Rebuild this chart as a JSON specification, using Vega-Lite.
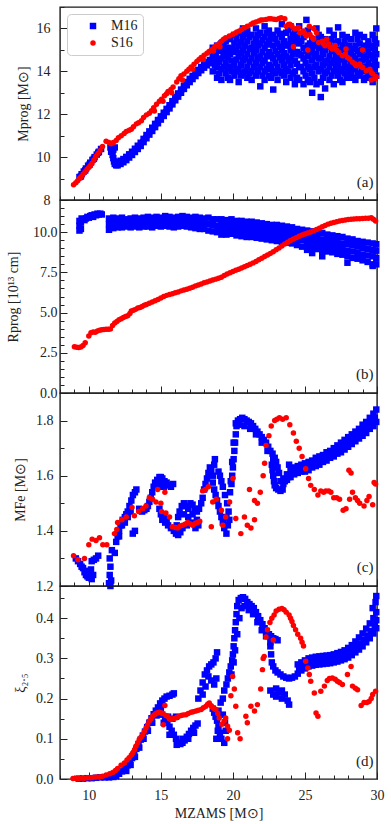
{
"$schema":"https://vega.github.io/schema/vega-lite/v6.json",
"autosize":{"type":"pad"},
"padding":{"left":5,"top":5,"right":0,"bottom":0},
"spacing":0,
"bounds":"flush",
"config":{"font":"Liberation Serif","view":{"stroke":"#1a1a1a","strokeWidth":1.4},
"axis":{"domain":false,"grid":false,"labelFontSize":14,"labelColor":"#222","titleFontSize":14,"titleColor":"#222","titleFontWeight":"normal","tickColor":"#222","tickWidth":1,"labelOverlap":false,"labelBound":false,"labelFlush":false},
"point":{"filled":true,"opacity":1,"strokeWidth":0}},
"datasets":{
"a":[
{"s":"M16","x":9.35,"y":9.07},{"s":"M16","x":9.45,"y":9.1},{"s":"M16","x":9.5,"y":9.2},{"s":"M16","x":9.65,"y":9.33},{"s":"M16","x":9.75,"y":9.38},{"s":"M16","x":9.8,"y":9.47},{"s":"M16","x":9.95,"y":9.6},{"s":"M16","x":10.05,"y":9.65},{"s":"M16","x":10.1,"y":9.74},{"s":"M16","x":10.25,"y":9.87},{"s":"M16","x":10.35,"y":9.92},{"s":"M16","x":10.4,"y":10.0},{"s":"M16","x":10.55,"y":10.12},{"s":"M16","x":10.65,"y":10.2},{"s":"M16","x":10.7,"y":10.25},{"s":"M16","x":10.85,"y":10.38},
{"s":"M16","x":11.5,"y":10.45},{"s":"M16","x":11.6,"y":10.4},{"s":"M16","x":11.55,"y":10.25},{"s":"M16","x":11.65,"y":10.1},{"s":"M16","x":11.7,"y":9.95},{"s":"M16","x":11.75,"y":9.8},{"s":"M16","x":11.8,"y":9.68},{"s":"M16","x":11.9,"y":9.62},{"s":"M16","x":11.8,"y":10.45},{"s":"M16","x":11.7,"y":10.35},
{"s":"M16","x":12.0,"y":9.62},{"s":"M16","x":12.0,"y":9.77},{"s":"M16","x":12.2,"y":9.68},{"s":"M16","x":12.2,"y":9.83},{"s":"M16","x":12.4,"y":9.76},{"s":"M16","x":12.4,"y":9.91},{"s":"M16","x":12.6,"y":9.86},{"s":"M16","x":12.6,"y":10.01},{"s":"M16","x":12.8,"y":9.98},{"s":"M16","x":12.8,"y":10.13},{"s":"M16","x":13.0,"y":10.1},{"s":"M16","x":13.0,"y":10.25},{"s":"M16","x":13.2,"y":10.24},{"s":"M16","x":13.2,"y":10.39},{"s":"M16","x":13.4,"y":10.38},{"s":"M16","x":13.4,"y":10.53},{"s":"M16","x":13.6,"y":10.52},{"s":"M16","x":13.6,"y":10.67},{"s":"M16","x":13.8,"y":10.7},{"s":"M16","x":13.8,"y":10.85},{"s":"M16","x":14.0,"y":10.88},{"s":"M16","x":14.0,"y":11.03},{"s":"M16","x":14.2,"y":11.05},{"s":"M16","x":14.2,"y":11.2},{"s":"M16","x":14.4,"y":11.22},{"s":"M16","x":14.4,"y":11.37},{"s":"M16","x":14.6,"y":11.4},{"s":"M16","x":14.6,"y":11.55},{"s":"M16","x":14.8,"y":11.58},{"s":"M16","x":14.8,"y":11.73},{"s":"M16","x":15.0,"y":11.75},{"s":"M16","x":15.0,"y":11.9},{"s":"M16","x":15.2,"y":11.92},{"s":"M16","x":15.2,"y":12.07},{"s":"M16","x":15.4,"y":12.1},{"s":"M16","x":15.4,"y":12.25},{"s":"M16","x":15.6,"y":12.27},{"s":"M16","x":15.6,"y":12.42},{"s":"M16","x":15.8,"y":12.46},{"s":"M16","x":15.8,"y":12.61},{"s":"M16","x":16.0,"y":12.65},{"s":"M16","x":16.0,"y":12.8},{"s":"M16","x":16.2,"y":12.82},{"s":"M16","x":16.2,"y":12.97},{"s":"M16","x":16.4,"y":13.0},{"s":"M16","x":16.4,"y":13.15},{"s":"M16","x":16.6,"y":13.18},{"s":"M16","x":16.6,"y":13.33},{"s":"M16","x":16.8,"y":13.35},{"s":"M16","x":16.8,"y":13.5},{"s":"M16","x":17.0,"y":13.5},{"s":"M16","x":17.0,"y":13.65},{"s":"M16","x":17.2,"y":13.64},{"s":"M16","x":17.2,"y":13.79},{"s":"M16","x":17.4,"y":13.78},{"s":"M16","x":17.4,"y":13.93},{"s":"M16","x":17.6,"y":13.92},{"s":"M16","x":17.6,"y":14.07},{"s":"M16","x":17.8,"y":14.05},{"s":"M16","x":17.8,"y":14.2},{"s":"M16","x":18.0,"y":14.17},{"s":"M16","x":18.0,"y":14.32},{"s":"M16","x":18.2,"y":14.28},{"s":"M16","x":18.2,"y":14.43},{"s":"M16","x":18.4,"y":14.38},{"s":"M16","x":18.4,"y":14.53},{"s":"M16","x":18.6,"y":14.5},{"s":"M16","x":18.6,"y":14.65},{"s":"M16","x":18.8,"y":14.65},{"s":"M16","x":18.8,"y":14.8},
{"s":"M16","x":18.6,"y":14.0},{"s":"M16","x":18.6,"y":14.9},{"s":"M16","x":18.6,"y":15.1},
{"s":"M16","x":18.9,"y":13.7},{"s":"M16","x":18.9,"y":14.2},{"s":"M16","x":18.9,"y":15.2},
{"s":"M16","x":19.2,"y":13.6},{"s":"M16","x":19.2,"y":14.1},{"s":"M16","x":19.2,"y":14.6},{"s":"M16","x":19.2,"y":15.0},{"s":"M16","x":19.2,"y":15.3},
{"s":"M16","x":19.5,"y":13.9},{"s":"M16","x":19.5,"y":14.4},{"s":"M16","x":19.5,"y":14.9},{"s":"M16","x":19.5,"y":15.4},
{"s":"M16","x":19.8,"y":13.6},{"s":"M16","x":19.8,"y":14.2},{"s":"M16","x":19.8,"y":14.8},{"s":"M16","x":19.8,"y":15.5},
{"s":"M16","x":20.1,"y":13.8},{"s":"M16","x":20.1,"y":14.3},{"s":"M16","x":20.1,"y":14.9},{"s":"M16","x":20.1,"y":15.3},{"s":"M16","x":20.1,"y":15.7},
{"s":"M16","x":20.4,"y":13.5},{"s":"M16","x":20.4,"y":14.1},{"s":"M16","x":20.4,"y":14.7},{"s":"M16","x":20.4,"y":15.2},{"s":"M16","x":20.4,"y":15.8},
{"s":"M16","x":20.7,"y":13.9},{"s":"M16","x":20.7,"y":14.5},{"s":"M16","x":20.7,"y":15.0},{"s":"M16","x":20.7,"y":15.6},{"s":"M16","x":20.7,"y":16.0},
{"s":"M16","x":21.0,"y":13.7},{"s":"M16","x":21.0,"y":14.2},{"s":"M16","x":21.0,"y":14.8},{"s":"M16","x":21.0,"y":15.4},{"s":"M16","x":21.0,"y":15.9},
{"s":"M16","x":21.3,"y":13.6},{"s":"M16","x":21.3,"y":14.0},{"s":"M16","x":21.3,"y":14.6},{"s":"M16","x":21.3,"y":15.1},{"s":"M16","x":21.3,"y":15.7},
{"s":"M16","x":21.6,"y":13.8},{"s":"M16","x":21.6,"y":14.4},{"s":"M16","x":21.6,"y":15.0},{"s":"M16","x":21.6,"y":15.5},{"s":"M16","x":21.6,"y":16.0},
{"s":"M16","x":21.9,"y":13.3},{"s":"M16","x":21.9,"y":14.2},{"s":"M16","x":21.9,"y":14.7},{"s":"M16","x":21.9,"y":15.3},{"s":"M16","x":21.9,"y":15.8},
{"s":"M16","x":22.2,"y":13.6},{"s":"M16","x":22.2,"y":14.0},{"s":"M16","x":22.2,"y":14.5},{"s":"M16","x":22.2,"y":15.1},{"s":"M16","x":22.2,"y":15.6},{"s":"M16","x":22.2,"y":16.1},
{"s":"M16","x":22.5,"y":13.8},{"s":"M16","x":22.5,"y":14.3},{"s":"M16","x":22.5,"y":14.9},{"s":"M16","x":22.5,"y":15.4},{"s":"M16","x":22.5,"y":15.9},
{"s":"M16","x":22.8,"y":13.15},{"s":"M16","x":22.8,"y":14.0},{"s":"M16","x":22.8,"y":14.6},{"s":"M16","x":22.8,"y":15.2},{"s":"M16","x":22.8,"y":15.7},
{"s":"M16","x":23.1,"y":13.6},{"s":"M16","x":23.1,"y":14.2},{"s":"M16","x":23.1,"y":14.8},{"s":"M16","x":23.1,"y":15.3},{"s":"M16","x":23.1,"y":15.9},
{"s":"M16","x":23.4,"y":13.9},{"s":"M16","x":23.4,"y":14.5},{"s":"M16","x":23.4,"y":15.0},{"s":"M16","x":23.4,"y":15.6},{"s":"M16","x":23.4,"y":16.2},
{"s":"M16","x":23.7,"y":13.5},{"s":"M16","x":23.7,"y":14.1},{"s":"M16","x":23.7,"y":14.7},{"s":"M16","x":23.7,"y":15.2},{"s":"M16","x":23.7,"y":15.8},
{"s":"M16","x":24.0,"y":13.7},{"s":"M16","x":24.0,"y":14.3},{"s":"M16","x":24.0,"y":14.6},{"s":"M16","x":24.0,"y":15.0},{"s":"M16","x":24.0,"y":15.5},{"s":"M16","x":24.0,"y":16.1},
{"s":"M16","x":24.3,"y":13.4},{"s":"M16","x":24.3,"y":14.0},{"s":"M16","x":24.3,"y":14.5},{"s":"M16","x":24.3,"y":14.9},{"s":"M16","x":24.3,"y":15.4},{"s":"M16","x":24.3,"y":15.9},
{"s":"M16","x":24.6,"y":13.6},{"s":"M16","x":24.6,"y":14.2},{"s":"M16","x":24.6,"y":14.8},{"s":"M16","x":24.6,"y":15.3},{"s":"M16","x":24.6,"y":16.1},
{"s":"M16","x":24.9,"y":13.4},{"s":"M16","x":24.9,"y":14.0},{"s":"M16","x":24.9,"y":14.6},{"s":"M16","x":24.9,"y":15.1},{"s":"M16","x":24.9,"y":15.6},{"s":"M16","x":25.1,"y":16.4},
{"s":"M16","x":25.2,"y":13.6},{"s":"M16","x":25.2,"y":14.2},{"s":"M16","x":25.2,"y":14.7},{"s":"M16","x":25.2,"y":15.2},{"s":"M16","x":25.2,"y":15.9},
{"s":"M16","x":25.5,"y":13.0},{"s":"M16","x":25.5,"y":13.9},{"s":"M16","x":25.5,"y":14.5},{"s":"M16","x":25.5,"y":15.0},{"s":"M16","x":25.5,"y":15.5},
{"s":"M16","x":25.8,"y":13.4},{"s":"M16","x":25.8,"y":14.3},{"s":"M16","x":25.8,"y":14.8},{"s":"M16","x":25.8,"y":15.4},{"s":"M16","x":25.8,"y":16.0},
{"s":"M16","x":26.1,"y":12.8},{"s":"M16","x":26.1,"y":13.5},{"s":"M16","x":26.1,"y":14.1},{"s":"M16","x":26.1,"y":14.6},{"s":"M16","x":26.1,"y":15.1},{"s":"M16","x":26.1,"y":15.6},
{"s":"M16","x":26.4,"y":13.2},{"s":"M16","x":26.4,"y":13.9},{"s":"M16","x":26.4,"y":14.4},{"s":"M16","x":26.4,"y":15.0},{"s":"M16","x":26.4,"y":15.5},
{"s":"M16","x":26.7,"y":13.6},{"s":"M16","x":26.7,"y":14.2},{"s":"M16","x":26.7,"y":14.7},{"s":"M16","x":26.7,"y":15.3},{"s":"M16","x":26.7,"y":15.9},
{"s":"M16","x":27.0,"y":13.4},{"s":"M16","x":27.0,"y":14.0},{"s":"M16","x":27.0,"y":14.5},{"s":"M16","x":27.0,"y":15.0},{"s":"M16","x":27.0,"y":15.7},
{"s":"M16","x":27.3,"y":13.8},{"s":"M16","x":27.3,"y":14.3},{"s":"M16","x":27.3,"y":14.8},{"s":"M16","x":27.3,"y":15.4},{"s":"M16","x":27.3,"y":16.05},
{"s":"M16","x":27.6,"y":13.5},{"s":"M16","x":27.6,"y":14.1},{"s":"M16","x":27.6,"y":14.6},{"s":"M16","x":27.6,"y":15.2},{"s":"M16","x":27.6,"y":15.7},
{"s":"M16","x":27.9,"y":13.7},{"s":"M16","x":27.9,"y":14.2},{"s":"M16","x":27.9,"y":14.7},{"s":"M16","x":27.9,"y":15.1},{"s":"M16","x":27.9,"y":15.6},
{"s":"M16","x":28.2,"y":13.9},{"s":"M16","x":28.2,"y":14.4},{"s":"M16","x":28.2,"y":14.9},{"s":"M16","x":28.2,"y":15.5},
{"s":"M16","x":28.5,"y":13.6},{"s":"M16","x":28.5,"y":14.1},{"s":"M16","x":28.5,"y":14.6},{"s":"M16","x":28.5,"y":15.2},{"s":"M16","x":28.5,"y":15.8},
{"s":"M16","x":28.8,"y":13.8},{"s":"M16","x":28.8,"y":14.3},{"s":"M16","x":28.8,"y":14.8},{"s":"M16","x":28.8,"y":15.3},{"s":"M16","x":28.8,"y":15.7},
{"s":"M16","x":29.1,"y":13.6},{"s":"M16","x":29.1,"y":14.2},{"s":"M16","x":29.1,"y":14.7},{"s":"M16","x":29.1,"y":15.1},{"s":"M16","x":29.1,"y":15.6},
{"s":"M16","x":29.4,"y":13.9},{"s":"M16","x":29.4,"y":14.4},{"s":"M16","x":29.4,"y":14.9},{"s":"M16","x":29.4,"y":15.4},
{"s":"M16","x":29.7,"y":13.5},{"s":"M16","x":29.7,"y":14.0},{"s":"M16","x":29.7,"y":14.6},{"s":"M16","x":29.7,"y":15.1},{"s":"M16","x":29.7,"y":15.7},
{"s":"M16","x":29.95,"y":13.8},{"s":"M16","x":29.95,"y":14.3},{"s":"M16","x":29.95,"y":14.8},{"s":"M16","x":29.95,"y":15.3},{"s":"M16","x":29.95,"y":16.0},
{"s":"M16","x":18.75,"y":14.3},{"s":"M16","x":18.75,"y":14.8},
{"s":"M16","x":19.05,"y":13.9},{"s":"M16","x":19.05,"y":14.45},{"s":"M16","x":19.05,"y":14.95},
{"s":"M16","x":19.35,"y":14.2},{"s":"M16","x":19.35,"y":14.7},{"s":"M16","x":19.35,"y":15.2},
{"s":"M16","x":19.65,"y":13.7},{"s":"M16","x":19.65,"y":14.15},{"s":"M16","x":19.65,"y":14.65},{"s":"M16","x":19.65,"y":15.1},
{"s":"M16","x":19.95,"y":14.0},{"s":"M16","x":19.95,"y":14.5},{"s":"M16","x":19.95,"y":15.05},
{"s":"M16","x":20.25,"y":14.0},{"s":"M16","x":20.25,"y":14.55},{"s":"M16","x":20.25,"y":15.0},{"s":"M16","x":20.25,"y":15.5},
{"s":"M16","x":20.55,"y":13.8},{"s":"M16","x":20.55,"y":14.3},{"s":"M16","x":20.55,"y":14.85},{"s":"M16","x":20.55,"y":15.35},
{"s":"M16","x":20.85,"y":14.0},{"s":"M16","x":20.85,"y":14.6},{"s":"M16","x":20.85,"y":15.2},{"s":"M16","x":20.85,"y":15.75},
{"s":"M16","x":21.15,"y":13.9},{"s":"M16","x":21.15,"y":14.45},{"s":"M16","x":21.15,"y":15.05},{"s":"M16","x":21.15,"y":15.6},
{"s":"M16","x":21.45,"y":14.2},{"s":"M16","x":21.45,"y":14.85},{"s":"M16","x":21.45,"y":15.3},
{"s":"M16","x":21.75,"y":14.0},{"s":"M16","x":21.75,"y":14.6},{"s":"M16","x":21.75,"y":15.2},{"s":"M16","x":21.75,"y":15.7},
{"s":"M16","x":22.05,"y":13.8},{"s":"M16","x":22.05,"y":14.4},{"s":"M16","x":22.05,"y":14.9},{"s":"M16","x":22.05,"y":15.45},
{"s":"M16","x":22.35,"y":14.1},{"s":"M16","x":22.35,"y":14.7},{"s":"M16","x":22.35,"y":15.25},{"s":"M16","x":22.35,"y":15.8},
{"s":"M16","x":22.65,"y":13.7},{"s":"M16","x":22.65,"y":14.2},{"s":"M16","x":22.65,"y":14.75},{"s":"M16","x":22.65,"y":15.55},
{"s":"M16","x":22.95,"y":13.9},{"s":"M16","x":22.95,"y":14.4},{"s":"M16","x":22.95,"y":14.95},{"s":"M16","x":22.95,"y":15.5},
{"s":"M16","x":23.25,"y":14.0},{"s":"M16","x":23.25,"y":14.65},{"s":"M16","x":23.25,"y":15.15},{"s":"M16","x":23.25,"y":15.75},
{"s":"M16","x":23.55,"y":13.8},{"s":"M16","x":23.55,"y":14.3},{"s":"M16","x":23.55,"y":14.85},{"s":"M16","x":23.55,"y":15.4},
{"s":"M16","x":23.85,"y":14.0},{"s":"M16","x":23.85,"y":14.5},{"s":"M16","x":23.85,"y":15.25},{"s":"M16","x":23.85,"y":15.95},
{"s":"M16","x":24.15,"y":13.9},{"s":"M16","x":24.15,"y":14.8},{"s":"M16","x":24.15,"y":15.2},{"s":"M16","x":24.15,"y":15.7},
{"s":"M16","x":24.45,"y":13.7},{"s":"M16","x":24.45,"y":14.35},{"s":"M16","x":24.45,"y":14.9},{"s":"M16","x":24.45,"y":15.6},
{"s":"M16","x":24.75,"y":14.2},{"s":"M16","x":24.75,"y":14.75},{"s":"M16","x":24.75,"y":15.4},
{"s":"M16","x":25.05,"y":13.8},{"s":"M16","x":25.05,"y":14.4},{"s":"M16","x":25.05,"y":14.95},{"s":"M16","x":25.05,"y":15.75},
{"s":"M16","x":25.35,"y":13.5},{"s":"M16","x":25.35,"y":14.1},{"s":"M16","x":25.35,"y":14.9},{"s":"M16","x":25.35,"y":15.3},
{"s":"M16","x":25.65,"y":13.7},{"s":"M16","x":25.65,"y":14.2},{"s":"M16","x":25.65,"y":14.7},{"s":"M16","x":25.65,"y":15.2},
{"s":"M16","x":25.95,"y":14.0},{"s":"M16","x":25.95,"y":14.6},{"s":"M16","x":25.95,"y":15.1},{"s":"M16","x":25.95,"y":15.7},
{"s":"M16","x":26.25,"y":13.7},{"s":"M16","x":26.25,"y":14.3},{"s":"M16","x":26.25,"y":14.8},{"s":"M16","x":26.25,"y":15.3},
{"s":"M16","x":26.55,"y":14.0},{"s":"M16","x":26.55,"y":14.5},{"s":"M16","x":26.55,"y":15.15},
{"s":"M16","x":26.85,"y":13.8},{"s":"M16","x":26.85,"y":14.4},{"s":"M16","x":26.85,"y":14.95},{"s":"M16","x":26.85,"y":15.5},
{"s":"M16","x":27.15,"y":14.2},{"s":"M16","x":27.15,"y":14.75},{"s":"M16","x":27.15,"y":15.3},
{"s":"M16","x":27.45,"y":13.6},{"s":"M16","x":27.45,"y":14.0},{"s":"M16","x":27.45,"y":14.55},{"s":"M16","x":27.45,"y":15.0},
{"s":"M16","x":27.75,"y":13.9},{"s":"M16","x":27.75,"y":14.4},{"s":"M16","x":27.75,"y":14.95},{"s":"M16","x":27.75,"y":15.4},
{"s":"M16","x":28.05,"y":14.0},{"s":"M16","x":28.05,"y":14.6},{"s":"M16","x":28.05,"y":15.2},
{"s":"M16","x":28.35,"y":13.7},{"s":"M16","x":28.35,"y":14.15},{"s":"M16","x":28.35,"y":14.7},{"s":"M16","x":28.35,"y":15.05},
{"s":"M16","x":28.65,"y":13.9},{"s":"M16","x":28.65,"y":14.45},{"s":"M16","x":28.65,"y":14.95},{"s":"M16","x":28.65,"y":15.5},
{"s":"M16","x":28.95,"y":14.0},{"s":"M16","x":28.95,"y":14.5},{"s":"M16","x":28.95,"y":15.0},
{"s":"M16","x":29.25,"y":13.7},{"s":"M16","x":29.25,"y":14.1},{"s":"M16","x":29.25,"y":14.6},{"s":"M16","x":29.25,"y":15.2},
{"s":"M16","x":29.55,"y":13.8},{"s":"M16","x":29.55,"y":14.25},{"s":"M16","x":29.55,"y":14.75},{"s":"M16","x":29.55,"y":15.2},
{"s":"M16","x":29.85,"y":14.1},{"s":"M16","x":29.85,"y":14.5},{"s":"M16","x":29.85,"y":15.0},{"s":"M16","x":29.85,"y":15.5},
{"s":"S16","x":8.94,"y":8.71},{"s":"S16","x":9.1,"y":8.8},{"s":"S16","x":9.23,"y":8.9},{"s":"S16","x":9.35,"y":9.0},{"s":"S16","x":9.46,"y":9.08},{"s":"S16","x":9.6,"y":9.2},{"s":"S16","x":9.74,"y":9.31},{"s":"S16","x":9.87,"y":9.42},{"s":"S16","x":9.99,"y":9.51},{"s":"S16","x":10.1,"y":9.6},{"s":"S16","x":10.22,"y":9.7},{"s":"S16","x":10.36,"y":9.87},{"s":"S16","x":10.5,"y":10.04},{"s":"S16","x":10.64,"y":10.17},{"s":"S16","x":10.78,"y":10.3},{"s":"S16","x":10.95,"y":10.5},{"s":"S16","x":11.2,"y":10.74},{"s":"S16","x":11.4,"y":10.68},{"s":"S16","x":11.55,"y":10.62},{"s":"S16","x":11.7,"y":10.68},{"s":"S16","x":11.9,"y":10.77},{"s":"S16","x":12.05,"y":10.9},{"s":"S16","x":12.25,"y":11.0},{"s":"S16","x":12.45,"y":11.1},{"s":"S16","x":12.6,"y":11.2},{"s":"S16","x":12.8,"y":11.25},{"s":"S16","x":12.95,"y":11.3},{"s":"S16","x":13.1,"y":11.42},{"s":"S16","x":13.3,"y":11.55},{"s":"S16","x":13.45,"y":11.6},{"s":"S16","x":13.65,"y":11.7},{"s":"S16","x":13.8,"y":11.85},{"s":"S16","x":14.0,"y":11.97},{"s":"S16","x":14.2,"y":12.05},{"s":"S16","x":14.35,"y":12.16},{"s":"S16","x":14.5,"y":12.3},{"s":"S16","x":14.7,"y":12.47},{"s":"S16","x":14.9,"y":12.6},{"s":"S16","x":15.05,"y":12.7},{"s":"S16","x":15.25,"y":12.86},{"s":"S16","x":15.4,"y":12.95},{"s":"S16","x":15.5,"y":13.06},{"s":"S16","x":15.7,"y":13.15},{"s":"S16","x":15.85,"y":13.27},{"s":"S16","x":16.1,"y":13.5},{"s":"S16","x":16.25,"y":13.65},{"s":"S16","x":16.4,"y":13.8},{"s":"S16","x":16.6,"y":13.88},{"s":"S16","x":16.8,"y":14.0},{"s":"S16","x":16.95,"y":14.1},{"s":"S16","x":17.1,"y":14.2},{"s":"S16","x":17.3,"y":14.33},{"s":"S16","x":17.5,"y":14.46},{"s":"S16","x":17.65,"y":14.55},{"s":"S16","x":17.8,"y":14.65},{"s":"S16","x":18.0,"y":14.75},{"s":"S16","x":18.2,"y":14.84},{"s":"S16","x":18.35,"y":14.92},{"s":"S16","x":18.5,"y":15.0},{"s":"S16","x":18.7,"y":15.1},{"s":"S16","x":18.85,"y":15.2},{"s":"S16","x":19.05,"y":15.3},{"s":"S16","x":19.2,"y":15.4},{"s":"S16","x":19.35,"y":15.5},{"s":"S16","x":19.5,"y":15.57},{"s":"S16","x":19.75,"y":15.65},{"s":"S16","x":19.98,"y":15.72},{"s":"S16","x":20.2,"y":15.8},{"s":"S16","x":20.44,"y":15.88},{"s":"S16","x":20.6,"y":15.95},{"s":"S16","x":20.79,"y":16.03},{"s":"S16","x":21.0,"y":16.1},{"s":"S16","x":21.25,"y":16.19},{"s":"S16","x":21.4,"y":16.25},{"s":"S16","x":21.6,"y":16.3},{"s":"S16","x":21.8,"y":16.35},{"s":"S16","x":21.95,"y":16.39},{"s":"S16","x":22.1,"y":16.4},{"s":"S16","x":22.3,"y":16.42},{"s":"S16","x":22.5,"y":16.45},{"s":"S16","x":22.65,"y":16.45},{"s":"S16","x":22.85,"y":16.43},{"s":"S16","x":23.0,"y":16.42},{"s":"S16","x":23.2,"y":16.46},{"s":"S16","x":23.35,"y":16.5},{"s":"S16","x":23.6,"y":16.45},{"s":"S16","x":23.7,"y":16.1},{"s":"S16","x":23.85,"y":16.18},{"s":"S16","x":23.95,"y":16.2},{"s":"S16","x":24.1,"y":16.1},{"s":"S16","x":24.3,"y":15.97},{"s":"S16","x":24.45,"y":16.0},{"s":"S16","x":24.55,"y":16.05},{"s":"S16","x":24.65,"y":15.8},{"s":"S16","x":24.9,"y":15.88},{"s":"S16","x":25.0,"y":15.75},{"s":"S16","x":25.1,"y":15.65},{"s":"S16","x":25.35,"y":15.72},{"s":"S16","x":25.5,"y":15.58},{"s":"S16","x":25.6,"y":15.5},{"s":"S16","x":25.8,"y":15.8},{"s":"S16","x":25.95,"y":15.35},{"s":"S16","x":26.2,"y":15.4},{"s":"S16","x":26.3,"y":15.28},{"s":"S16","x":26.4,"y":15.19},{"s":"S16","x":26.65,"y":15.27},{"s":"S16","x":26.75,"y":15.12},{"s":"S16","x":26.9,"y":15.04},{"s":"S16","x":27.1,"y":15.2},{"s":"S16","x":27.2,"y":14.98},{"s":"S16","x":27.35,"y":14.88},{"s":"S16","x":27.6,"y":14.73},{"s":"S16","x":27.8,"y":14.8},{"s":"S16","x":27.95,"y":14.65},{"s":"S16","x":28.1,"y":14.57},{"s":"S16","x":28.3,"y":14.42},{"s":"S16","x":28.45,"y":14.35},{"s":"S16","x":28.55,"y":14.26},{"s":"S16","x":28.8,"y":14.34},{"s":"S16","x":28.9,"y":14.22},{"s":"S16","x":29.0,"y":14.18},{"s":"S16","x":29.25,"y":14.03},{"s":"S16","x":29.5,"y":14.1},{"s":"S16","x":29.6,"y":13.95},{"s":"S16","x":29.7,"y":13.88},{"s":"S16","x":29.85,"y":13.65},{"s":"S16","x":29.95,"y":13.75},
{"s":"S16","x":24.2,"y":15.15},{"s":"S16","x":25.2,"y":15.0},{"s":"S16","x":26.5,"y":15.5},{"s":"S16","x":29.0,"y":15.0},{"s":"S16","x":29.6,"y":13.6},{"s":"S16","x":27.85,"y":15.04},{"s":"S16","x":25.3,"y":16.1},{"s":"S16","x":25.6,"y":16.0},
{"s":"S16","x":14.55,"y":12.15},{"s":"S16","x":15.15,"y":12.6},{"s":"S16","x":15.75,"y":13.0},{"s":"S16","x":16.5,"y":13.6},{"s":"S16","x":17.2,"y":14.1},{"s":"S16","x":17.95,"y":14.55},{"s":"S16","x":18.65,"y":14.95},{"s":"S16","x":19.1,"y":15.15}
],
"b":[
{"s":"M16","x":9.35,"y":10.1},{"s":"M16","x":9.35,"y":10.4},{"s":"M16","x":9.35,"y":10.7},{"s":"M16","x":9.45,"y":10.2},{"s":"M16","x":9.45,"y":10.6},{"s":"M16","x":9.5,"y":10.85},{"s":"M16","x":9.6,"y":10.8},{"s":"M16","x":9.7,"y":10.75},{"s":"M16","x":9.8,"y":10.85},{"s":"M16","x":9.9,"y":10.95},{"s":"M16","x":10.0,"y":10.9},{"s":"M16","x":10.1,"y":11.0},{"s":"M16","x":10.2,"y":11.05},{"s":"M16","x":10.3,"y":10.95},{"s":"M16","x":10.4,"y":11.1},{"s":"M16","x":10.5,"y":11.05},{"s":"M16","x":10.6,"y":11.15},{"s":"M16","x":10.7,"y":11.1},{"s":"M16","x":10.8,"y":11.15},{"s":"M16","x":10.9,"y":11.1},
{"s":"M16","x":11.4,"y":10.85},{"s":"M16","x":11.4,"y":10.5},{"s":"M16","x":11.4,"y":10.15},{"s":"M16","x":11.7,"y":10.9},{"s":"M16","x":11.7,"y":10.55},{"s":"M16","x":11.7,"y":10.25},{"s":"M16","x":12.0,"y":10.85},{"s":"M16","x":12.0,"y":10.6},{"s":"M16","x":12.0,"y":10.3},{"s":"M16","x":12.3,"y":10.9},{"s":"M16","x":12.3,"y":10.55},{"s":"M16","x":12.3,"y":10.3},{"s":"M16","x":12.6,"y":10.8},{"s":"M16","x":12.6,"y":10.55},{"s":"M16","x":12.6,"y":10.35},{"s":"M16","x":12.9,"y":10.85},{"s":"M16","x":12.9,"y":10.6},{"s":"M16","x":12.9,"y":10.3},{"s":"M16","x":13.2,"y":10.9},{"s":"M16","x":13.2,"y":10.6},{"s":"M16","x":13.2,"y":10.35},{"s":"M16","x":13.5,"y":10.85},{"s":"M16","x":13.5,"y":10.55},{"s":"M16","x":13.5,"y":10.3},{"s":"M16","x":13.8,"y":10.9},{"s":"M16","x":13.8,"y":10.6},{"s":"M16","x":13.8,"y":10.35},{"s":"M16","x":14.1,"y":10.95},{"s":"M16","x":14.1,"y":10.65},{"s":"M16","x":14.1,"y":10.35},{"s":"M16","x":14.4,"y":10.9},{"s":"M16","x":14.4,"y":10.6},{"s":"M16","x":14.4,"y":10.3},{"s":"M16","x":14.7,"y":10.95},{"s":"M16","x":14.7,"y":10.65},{"s":"M16","x":14.7,"y":10.4},{"s":"M16","x":15.0,"y":10.9},{"s":"M16","x":15.0,"y":10.65},{"s":"M16","x":15.0,"y":10.35},{"s":"M16","x":15.3,"y":11.0},{"s":"M16","x":15.3,"y":10.7},{"s":"M16","x":15.3,"y":10.4},{"s":"M16","x":15.6,"y":10.95},{"s":"M16","x":15.6,"y":10.65},{"s":"M16","x":15.6,"y":10.35},{"s":"M16","x":15.9,"y":10.9},{"s":"M16","x":15.9,"y":10.6},{"s":"M16","x":15.9,"y":10.3},{"s":"M16","x":16.2,"y":10.95},{"s":"M16","x":16.2,"y":10.65},{"s":"M16","x":16.2,"y":10.35},{"s":"M16","x":16.5,"y":11.0},{"s":"M16","x":16.5,"y":10.7},{"s":"M16","x":16.5,"y":10.4},{"s":"M16","x":16.8,"y":10.95},{"s":"M16","x":16.8,"y":10.65},{"s":"M16","x":16.8,"y":10.35},{"s":"M16","x":17.1,"y":10.9},{"s":"M16","x":17.1,"y":10.6},{"s":"M16","x":17.1,"y":10.3},{"s":"M16","x":17.4,"y":10.95},{"s":"M16","x":17.4,"y":10.6},{"s":"M16","x":17.4,"y":10.25},{"s":"M16","x":17.7,"y":10.9},{"s":"M16","x":17.7,"y":10.55},{"s":"M16","x":17.7,"y":10.2},{"s":"M16","x":18.0,"y":10.85},{"s":"M16","x":18.0,"y":10.55},{"s":"M16","x":18.0,"y":10.2},{"s":"M16","x":18.3,"y":10.9},{"s":"M16","x":18.3,"y":10.5},{"s":"M16","x":18.3,"y":10.1},{"s":"M16","x":18.6,"y":10.8},{"s":"M16","x":18.6,"y":10.45},{"s":"M16","x":18.6,"y":10.05},{"s":"M16","x":18.9,"y":10.8},{"s":"M16","x":18.9,"y":10.4},{"s":"M16","x":18.9,"y":10.0},
{"s":"M16","x":19.2,"y":10.8},{"s":"M16","x":19.2,"y":10.45},{"s":"M16","x":19.2,"y":10.1},{"s":"M16","x":19.2,"y":9.85},{"s":"M16","x":19.55,"y":10.75},{"s":"M16","x":19.55,"y":10.4},{"s":"M16","x":19.55,"y":10.1},{"s":"M16","x":19.55,"y":9.85},{"s":"M16","x":19.9,"y":10.8},{"s":"M16","x":19.9,"y":10.45},{"s":"M16","x":19.9,"y":10.15},{"s":"M16","x":19.9,"y":9.9},{"s":"M16","x":20.25,"y":10.7},{"s":"M16","x":20.25,"y":10.35},{"s":"M16","x":20.25,"y":10.05},{"s":"M16","x":20.25,"y":9.8},{"s":"M16","x":20.6,"y":10.7},{"s":"M16","x":20.6,"y":10.4},{"s":"M16","x":20.6,"y":10.05},{"s":"M16","x":20.6,"y":9.75},{"s":"M16","x":20.95,"y":10.65},{"s":"M16","x":20.95,"y":10.3},{"s":"M16","x":20.95,"y":10.0},{"s":"M16","x":20.95,"y":9.7},{"s":"M16","x":21.3,"y":10.65},{"s":"M16","x":21.3,"y":10.3},{"s":"M16","x":21.3,"y":9.95},{"s":"M16","x":21.3,"y":9.7},{"s":"M16","x":21.65,"y":10.6},{"s":"M16","x":21.65,"y":10.25},{"s":"M16","x":21.65,"y":9.95},{"s":"M16","x":21.65,"y":9.65},{"s":"M16","x":22.0,"y":10.55},{"s":"M16","x":22.0,"y":10.2},{"s":"M16","x":22.0,"y":9.9},{"s":"M16","x":22.0,"y":9.6},{"s":"M16","x":22.35,"y":10.5},{"s":"M16","x":22.35,"y":10.15},{"s":"M16","x":22.35,"y":9.85},{"s":"M16","x":22.35,"y":9.55},{"s":"M16","x":22.7,"y":10.45},{"s":"M16","x":22.7,"y":10.1},{"s":"M16","x":22.7,"y":9.8},{"s":"M16","x":22.7,"y":9.5},{"s":"M16","x":23.05,"y":10.45},{"s":"M16","x":23.05,"y":10.1},{"s":"M16","x":23.05,"y":9.75},{"s":"M16","x":23.05,"y":9.45},{"s":"M16","x":23.4,"y":10.4},{"s":"M16","x":23.4,"y":10.05},{"s":"M16","x":23.4,"y":9.7},{"s":"M16","x":23.4,"y":9.4},{"s":"M16","x":23.75,"y":10.35},{"s":"M16","x":23.75,"y":10.0},{"s":"M16","x":23.75,"y":9.7},{"s":"M16","x":23.75,"y":9.35},{"s":"M16","x":24.1,"y":10.3},{"s":"M16","x":24.1,"y":9.95},{"s":"M16","x":24.1,"y":9.6},{"s":"M16","x":24.1,"y":9.3},{"s":"M16","x":24.45,"y":10.2},{"s":"M16","x":24.45,"y":9.9},{"s":"M16","x":24.45,"y":9.55},{"s":"M16","x":24.45,"y":9.2},{"s":"M16","x":24.8,"y":10.15},{"s":"M16","x":24.8,"y":9.8},{"s":"M16","x":24.8,"y":9.5},{"s":"M16","x":24.8,"y":9.1},{"s":"M16","x":25.15,"y":10.1},{"s":"M16","x":25.15,"y":9.75},{"s":"M16","x":25.15,"y":9.4},{"s":"M16","x":25.15,"y":9.05},{"s":"M16","x":25.15,"y":8.9},{"s":"M16","x":25.5,"y":10.05},{"s":"M16","x":25.5,"y":9.7},{"s":"M16","x":25.5,"y":9.35},{"s":"M16","x":25.5,"y":9.0},{"s":"M16","x":25.5,"y":8.7},{"s":"M16","x":25.85,"y":10.0},{"s":"M16","x":25.85,"y":9.65},{"s":"M16","x":25.85,"y":9.3},{"s":"M16","x":25.85,"y":8.95},{"s":"M16","x":26.2,"y":9.95},{"s":"M16","x":26.2,"y":9.55},{"s":"M16","x":26.2,"y":9.2},{"s":"M16","x":26.2,"y":8.85},{"s":"M16","x":26.2,"y":8.5},{"s":"M16","x":26.55,"y":9.85},{"s":"M16","x":26.55,"y":9.5},{"s":"M16","x":26.55,"y":9.15},{"s":"M16","x":26.55,"y":8.8},{"s":"M16","x":26.9,"y":9.8},{"s":"M16","x":26.9,"y":9.45},{"s":"M16","x":26.9,"y":9.1},{"s":"M16","x":26.9,"y":8.75},{"s":"M16","x":27.25,"y":9.75},{"s":"M16","x":27.25,"y":9.4},{"s":"M16","x":27.25,"y":9.0},{"s":"M16","x":27.25,"y":8.65},{"s":"M16","x":27.6,"y":9.7},{"s":"M16","x":27.6,"y":9.3},{"s":"M16","x":27.6,"y":8.95},{"s":"M16","x":27.6,"y":8.6},{"s":"M16","x":27.95,"y":9.6},{"s":"M16","x":27.95,"y":9.25},{"s":"M16","x":27.95,"y":8.85},{"s":"M16","x":27.95,"y":8.5},{"s":"M16","x":27.95,"y":8.1},{"s":"M16","x":28.3,"y":9.55},{"s":"M16","x":28.3,"y":9.2},{"s":"M16","x":28.3,"y":8.8},{"s":"M16","x":28.3,"y":8.4},{"s":"M16","x":28.65,"y":9.45},{"s":"M16","x":28.65,"y":9.1},{"s":"M16","x":28.65,"y":8.7},{"s":"M16","x":28.65,"y":8.35},{"s":"M16","x":29.0,"y":9.4},{"s":"M16","x":29.0,"y":9.0},{"s":"M16","x":29.0,"y":8.6},{"s":"M16","x":29.0,"y":8.25},{"s":"M16","x":29.35,"y":9.35},{"s":"M16","x":29.35,"y":8.95},{"s":"M16","x":29.35,"y":8.55},{"s":"M16","x":29.35,"y":8.15},{"s":"M16","x":29.7,"y":9.3},{"s":"M16","x":29.7,"y":8.9},{"s":"M16","x":29.7,"y":8.5},{"s":"M16","x":29.7,"y":8.0},{"s":"M16","x":29.7,"y":7.9},{"s":"M16","x":29.95,"y":9.25},{"s":"M16","x":29.95,"y":8.85},{"s":"M16","x":29.95,"y":8.4},{"s":"M16","x":29.95,"y":8.0},
{"s":"S16","x":9.0,"y":2.88},{"s":"S16","x":9.15,"y":2.85},{"s":"S16","x":9.3,"y":2.83},{"s":"S16","x":9.45,"y":2.86},{"s":"S16","x":9.6,"y":2.95},{"s":"S16","x":9.75,"y":3.12},{"s":"S16","x":10.0,"y":3.55},{"s":"S16","x":10.15,"y":3.75},{"s":"S16","x":10.3,"y":3.8},{"s":"S16","x":10.45,"y":3.78},{"s":"S16","x":10.6,"y":3.85},{"s":"S16","x":10.75,"y":3.9},{"s":"S16","x":10.9,"y":3.93},{"s":"S16","x":11.05,"y":3.95},{"s":"S16","x":11.2,"y":3.97},{"s":"S16","x":11.35,"y":3.96},{"s":"S16","x":11.5,"y":3.98},{"s":"S16","x":11.65,"y":4.2},{"s":"S16","x":11.8,"y":4.35},{"s":"S16","x":11.95,"y":4.45},{"s":"S16","x":12.1,"y":4.55},{"s":"S16","x":12.25,"y":4.62},{"s":"S16","x":12.4,"y":4.7},{"s":"S16","x":12.55,"y":4.75},{"s":"S16","x":12.7,"y":4.8},{"s":"S16","x":12.85,"y":4.95},{"s":"S16","x":12.95,"y":5.1},{"s":"S16","x":13.1,"y":5.15},{"s":"S16","x":13.25,"y":5.2},{"s":"S16","x":13.4,"y":5.28},{"s":"S16","x":13.55,"y":5.32},{"s":"S16","x":13.7,"y":5.38},{"s":"S16","x":13.85,"y":5.45},{"s":"S16","x":14.0,"y":5.5},{"s":"S16","x":14.2,"y":5.58},{"s":"S16","x":14.4,"y":5.66},{"s":"S16","x":14.6,"y":5.74},{"s":"S16","x":14.8,"y":5.82},{"s":"S16","x":15.0,"y":5.9},{"s":"S16","x":15.2,"y":6.0},{"s":"S16","x":15.4,"y":6.07},{"s":"S16","x":15.6,"y":6.12},{"s":"S16","x":15.8,"y":6.17},{"s":"S16","x":16.0,"y":6.23},{"s":"S16","x":16.2,"y":6.28},{"s":"S16","x":16.4,"y":6.35},{"s":"S16","x":16.6,"y":6.4},{"s":"S16","x":16.8,"y":6.45},{"s":"S16","x":17.0,"y":6.52},{"s":"S16","x":17.2,"y":6.58},{"s":"S16","x":17.4,"y":6.66},{"s":"S16","x":17.6,"y":6.72},{"s":"S16","x":17.8,"y":6.78},{"s":"S16","x":18.0,"y":6.85},{"s":"S16","x":18.2,"y":6.9},{"s":"S16","x":18.4,"y":6.96},{"s":"S16","x":18.6,"y":7.02},{"s":"S16","x":18.8,"y":7.08},{"s":"S16","x":19.0,"y":7.13},{"s":"S16","x":19.2,"y":7.2},{"s":"S16","x":19.4,"y":7.3},{"s":"S16","x":19.6,"y":7.4},{"s":"S16","x":19.8,"y":7.48},{"s":"S16","x":20.0,"y":7.56},{"s":"S16","x":20.2,"y":7.63},{"s":"S16","x":20.4,"y":7.7},{"s":"S16","x":20.6,"y":7.77},{"s":"S16","x":20.8,"y":7.85},{"s":"S16","x":21.0,"y":7.93},{"s":"S16","x":21.2,"y":8.0},{"s":"S16","x":21.4,"y":8.09},{"s":"S16","x":21.6,"y":8.18},{"s":"S16","x":21.8,"y":8.28},{"s":"S16","x":22.0,"y":8.38},{"s":"S16","x":22.2,"y":8.48},{"s":"S16","x":22.4,"y":8.58},{"s":"S16","x":22.6,"y":8.68},{"s":"S16","x":22.8,"y":8.78},{"s":"S16","x":23.0,"y":8.9},{"s":"S16","x":23.2,"y":9.02},{"s":"S16","x":23.4,"y":9.14},{"s":"S16","x":23.6,"y":9.26},{"s":"S16","x":23.8,"y":9.37},{"s":"S16","x":24.0,"y":9.48},{"s":"S16","x":24.2,"y":9.57},{"s":"S16","x":24.4,"y":9.66},{"s":"S16","x":24.6,"y":9.74},{"s":"S16","x":24.8,"y":9.82},{"s":"S16","x":25.0,"y":9.89},{"s":"S16","x":25.2,"y":9.95},{"s":"S16","x":25.4,"y":10.01},{"s":"S16","x":25.6,"y":10.08},{"s":"S16","x":25.8,"y":10.16},{"s":"S16","x":26.0,"y":10.25},{"s":"S16","x":26.2,"y":10.34},{"s":"S16","x":26.4,"y":10.42},{"s":"S16","x":26.6,"y":10.5},{"s":"S16","x":26.8,"y":10.56},{"s":"S16","x":27.0,"y":10.6},{"s":"S16","x":27.2,"y":10.65},{"s":"S16","x":27.4,"y":10.69},{"s":"S16","x":27.6,"y":10.73},{"s":"S16","x":27.8,"y":10.76},{"s":"S16","x":28.0,"y":10.79},{"s":"S16","x":28.2,"y":10.81},{"s":"S16","x":28.4,"y":10.82},{"s":"S16","x":28.6,"y":10.83},{"s":"S16","x":28.8,"y":10.84},{"s":"S16","x":29.0,"y":10.85},{"s":"S16","x":29.2,"y":10.86},{"s":"S16","x":29.4,"y":10.87},{"s":"S16","x":29.6,"y":10.9},{"s":"S16","x":29.75,"y":10.8},{"s":"S16","x":29.9,"y":10.7}
],
"c":[
{"s":"M16","x":9.1,"y":1.3},{"s":"M16","x":9.25,"y":1.29},{"s":"M16","x":9.4,"y":1.28},{"s":"M16","x":9.5,"y":1.27},{"s":"M16","x":9.6,"y":1.265},{"s":"M16","x":9.7,"y":1.25},{"s":"M16","x":9.8,"y":1.24},{"s":"M16","x":9.9,"y":1.235},{"s":"M16","x":10.0,"y":1.23},{"s":"M16","x":10.1,"y":1.235},{"s":"M16","x":10.2,"y":1.225},{"s":"M16","x":10.3,"y":1.24},{"s":"M16","x":9.9,"y":1.255},{"s":"M16","x":10.15,"y":1.26},{"s":"M16","x":10.2,"y":1.29},{"s":"M16","x":10.35,"y":1.295},{"s":"M16","x":10.5,"y":1.3},{"s":"M16","x":10.65,"y":1.31},
{"s":"M16","x":11.4,"y":1.21},{"s":"M16","x":11.45,"y":1.24},{"s":"M16","x":11.5,"y":1.27},{"s":"M16","x":11.45,"y":1.3},{"s":"M16","x":11.6,"y":1.33},{"s":"M16","x":11.5,"y":1.2},{"s":"M16","x":11.55,"y":1.22},
{"s":"M16","x":11.8,"y":1.32},{"s":"M16","x":11.9,"y":1.36},{"s":"M16","x":12.0,"y":1.38},{"s":"M16","x":12.1,"y":1.4},{"s":"M16","x":12.2,"y":1.42},{"s":"M16","x":12.35,"y":1.44},{"s":"M16","x":12.5,"y":1.45},{"s":"M16","x":12.6,"y":1.46},{"s":"M16","x":12.7,"y":1.47},{"s":"M16","x":12.82,"y":1.49},{"s":"M16","x":12.95,"y":1.51},{"s":"M16","x":13.06,"y":1.53},{"s":"M16","x":13.2,"y":1.54},{"s":"M16","x":13.3,"y":1.55},{"s":"M16","x":13.2,"y":1.4},{"s":"M16","x":13.05,"y":1.39},{"s":"M16","x":12.1,"y":1.38},{"s":"M16","x":12.3,"y":1.42},{"s":"M16","x":12.5,"y":1.43},{"s":"M16","x":12.7,"y":1.45},{"s":"M16","x":12.9,"y":1.47},
{"s":"M16","x":13.5,"y":1.48},{"s":"M16","x":13.7,"y":1.47},{"s":"M16","x":13.85,"y":1.475},{"s":"M16","x":14.0,"y":1.48},{"s":"M16","x":14.1,"y":1.49},{"s":"M16","x":14.2,"y":1.505},{"s":"M16","x":14.3,"y":1.52},{"s":"M16","x":14.4,"y":1.54},{"s":"M16","x":14.5,"y":1.56},{"s":"M16","x":14.6,"y":1.575},{"s":"M16","x":14.75,"y":1.585},{"s":"M16","x":14.9,"y":1.595},{"s":"M16","x":15.0,"y":1.595},{"s":"M16","x":15.1,"y":1.59},{"s":"M16","x":15.25,"y":1.58},{"s":"M16","x":15.4,"y":1.575},{"s":"M16","x":15.55,"y":1.565},{"s":"M16","x":15.7,"y":1.56},{"s":"M16","x":15.85,"y":1.57},{"s":"M16","x":14.8,"y":1.56},{"s":"M16","x":15.0,"y":1.57},{"s":"M16","x":15.2,"y":1.56},
{"s":"M16","x":14.9,"y":1.48},{"s":"M16","x":15.0,"y":1.46},{"s":"M16","x":15.1,"y":1.44},{"s":"M16","x":15.3,"y":1.43},{"s":"M16","x":15.5,"y":1.42},{"s":"M16","x":15.7,"y":1.41},{"s":"M16","x":15.9,"y":1.4},{"s":"M16","x":16.05,"y":1.39},{"s":"M16","x":16.2,"y":1.385},{"s":"M16","x":16.35,"y":1.395},{"s":"M16","x":16.5,"y":1.41},{"s":"M16","x":15.2,"y":1.45},{"s":"M16","x":15.4,"y":1.44},
{"s":"M16","x":16.1,"y":1.42},{"s":"M16","x":16.2,"y":1.45},{"s":"M16","x":16.3,"y":1.47},{"s":"M16","x":16.45,"y":1.49},{"s":"M16","x":16.6,"y":1.5},{"s":"M16","x":16.75,"y":1.49},{"s":"M16","x":16.9,"y":1.48},{"s":"M16","x":17.05,"y":1.5},{"s":"M16","x":17.2,"y":1.495},{"s":"M16","x":17.35,"y":1.48},{"s":"M16","x":17.5,"y":1.47},{"s":"M16","x":17.65,"y":1.48},{"s":"M16","x":16.6,"y":1.46},{"s":"M16","x":16.9,"y":1.45},{"s":"M16","x":17.2,"y":1.46},{"s":"M16","x":17.5,"y":1.44},{"s":"M16","x":16.8,"y":1.42},{"s":"M16","x":17.1,"y":1.43},{"s":"M16","x":17.4,"y":1.41},{"s":"M16","x":17.6,"y":1.42},
{"s":"M16","x":17.8,"y":1.5},{"s":"M16","x":17.9,"y":1.52},{"s":"M16","x":18.0,"y":1.55},{"s":"M16","x":18.1,"y":1.57},{"s":"M16","x":18.2,"y":1.59},{"s":"M16","x":18.3,"y":1.61},{"s":"M16","x":18.4,"y":1.63},{"s":"M16","x":18.5,"y":1.62},{"s":"M16","x":18.6,"y":1.6},{"s":"M16","x":18.7,"y":1.64},{"s":"M16","x":18.75,"y":1.66},{"s":"M16","x":18.6,"y":1.575},{"s":"M16","x":18.7,"y":1.55},{"s":"M16","x":18.8,"y":1.53},{"s":"M16","x":18.9,"y":1.51},{"s":"M16","x":19.0,"y":1.49},{"s":"M16","x":19.1,"y":1.47},{"s":"M16","x":19.2,"y":1.45},{"s":"M16","x":19.3,"y":1.43},{"s":"M16","x":19.4,"y":1.41},{"s":"M16","x":19.55,"y":1.39},{"s":"M16","x":19.0,"y":1.615},{"s":"M16","x":19.1,"y":1.6},{"s":"M16","x":19.2,"y":1.58},{"s":"M16","x":19.3,"y":1.56},{"s":"M16","x":19.45,"y":1.53},{"s":"M16","x":19.6,"y":1.5},{"s":"M16","x":19.7,"y":1.47},{"s":"M16","x":19.75,"y":1.44},{"s":"M16","x":19.65,"y":1.42},{"s":"M16","x":19.55,"y":1.45},
{"s":"M16","x":19.8,"y":1.54},{"s":"M16","x":19.9,"y":1.57},{"s":"M16","x":19.95,"y":1.6},{"s":"M16","x":20.0,"y":1.63},{"s":"M16","x":20.05,"y":1.66},{"s":"M16","x":20.1,"y":1.69},{"s":"M16","x":20.15,"y":1.72},{"s":"M16","x":20.2,"y":1.75},{"s":"M16","x":20.25,"y":1.78},{"s":"M16","x":20.35,"y":1.8},{"s":"M16","x":20.5,"y":1.805},{"s":"M16","x":20.65,"y":1.81},{"s":"M16","x":20.8,"y":1.805},{"s":"M16","x":20.95,"y":1.8},{"s":"M16","x":21.1,"y":1.795},{"s":"M16","x":21.25,"y":1.79},{"s":"M16","x":21.4,"y":1.78},{"s":"M16","x":21.55,"y":1.77},{"s":"M16","x":21.7,"y":1.76},{"s":"M16","x":21.85,"y":1.75},{"s":"M16","x":22.0,"y":1.74},{"s":"M16","x":22.15,"y":1.73},{"s":"M16","x":22.3,"y":1.72},{"s":"M16","x":22.45,"y":1.705},{"s":"M16","x":22.6,"y":1.69},{"s":"M16","x":22.75,"y":1.68},{"s":"M16","x":22.9,"y":1.665},{"s":"M16","x":23.0,"y":1.65},{"s":"M16","x":19.85,"y":1.58},{"s":"M16","x":19.95,"y":1.65},{"s":"M16","x":20.05,"y":1.72},{"s":"M16","x":20.2,"y":1.79},{"s":"M16","x":20.45,"y":1.785},{"s":"M16","x":20.8,"y":1.78},{"s":"M16","x":21.2,"y":1.77},{"s":"M16","x":21.6,"y":1.75},{"s":"M16","x":22.0,"y":1.72},{"s":"M16","x":22.4,"y":1.69},{"s":"M16","x":22.8,"y":1.66},
{"s":"M16","x":22.7,"y":1.64},{"s":"M16","x":22.75,"y":1.62},{"s":"M16","x":22.8,"y":1.6},{"s":"M16","x":22.85,"y":1.58},{"s":"M16","x":22.9,"y":1.565},{"s":"M16","x":23.0,"y":1.555},{"s":"M16","x":23.15,"y":1.55},{"s":"M16","x":23.3,"y":1.545},{"s":"M16","x":23.45,"y":1.55},{"s":"M16","x":23.2,"y":1.61},{"s":"M16","x":23.1,"y":1.63},{"s":"M16","x":23.3,"y":1.58},{"s":"M16","x":23.9,"y":1.64},
{"s":"M16","x":23.5,"y":1.57},{"s":"M16","x":23.5,"y":1.59},{"s":"M16","x":23.75,"y":1.585},{"s":"M16","x":23.75,"y":1.605},{"s":"M16","x":24.0,"y":1.595},{"s":"M16","x":24.0,"y":1.62},{"s":"M16","x":24.25,"y":1.605},{"s":"M16","x":24.25,"y":1.63},{"s":"M16","x":24.5,"y":1.61},{"s":"M16","x":24.5,"y":1.635},{"s":"M16","x":24.75,"y":1.615},{"s":"M16","x":24.75,"y":1.64},{"s":"M16","x":25.0,"y":1.615},{"s":"M16","x":25.0,"y":1.645},{"s":"M16","x":25.25,"y":1.62},{"s":"M16","x":25.25,"y":1.65},{"s":"M16","x":25.5,"y":1.63},{"s":"M16","x":25.5,"y":1.655},{"s":"M16","x":25.75,"y":1.635},{"s":"M16","x":25.75,"y":1.665},{"s":"M16","x":26.0,"y":1.64},{"s":"M16","x":26.0,"y":1.67},{"s":"M16","x":26.25,"y":1.65},{"s":"M16","x":26.25,"y":1.675},{"s":"M16","x":26.5,"y":1.655},{"s":"M16","x":26.5,"y":1.685},{"s":"M16","x":26.75,"y":1.665},{"s":"M16","x":26.75,"y":1.69},{"s":"M16","x":27.0,"y":1.67},{"s":"M16","x":27.0,"y":1.7},{"s":"M16","x":27.25,"y":1.68},{"s":"M16","x":27.25,"y":1.71},{"s":"M16","x":27.5,"y":1.685},{"s":"M16","x":27.5,"y":1.72},{"s":"M16","x":27.75,"y":1.695},{"s":"M16","x":27.75,"y":1.73},{"s":"M16","x":28.0,"y":1.705},{"s":"M16","x":28.0,"y":1.74},{"s":"M16","x":28.25,"y":1.715},{"s":"M16","x":28.25,"y":1.75},{"s":"M16","x":28.5,"y":1.725},{"s":"M16","x":28.5,"y":1.76},{"s":"M16","x":28.75,"y":1.735},{"s":"M16","x":28.75,"y":1.77},{"s":"M16","x":29.0,"y":1.745},{"s":"M16","x":29.0,"y":1.785},{"s":"M16","x":29.25,"y":1.755},{"s":"M16","x":29.25,"y":1.795},{"s":"M16","x":29.5,"y":1.77},{"s":"M16","x":29.5,"y":1.81},{"s":"M16","x":29.75,"y":1.78},{"s":"M16","x":29.75,"y":1.825},{"s":"M16","x":29.95,"y":1.795},{"s":"M16","x":29.95,"y":1.84},
{"s":"M16","x":23.6,"y":1.58},{"s":"M16","x":23.85,"y":1.595},{"s":"M16","x":24.1,"y":1.607},{"s":"M16","x":24.35,"y":1.617},{"s":"M16","x":24.6,"y":1.622},{"s":"M16","x":24.85,"y":1.627},{"s":"M16","x":25.1,"y":1.63},{"s":"M16","x":25.35,"y":1.635},{"s":"M16","x":25.6,"y":1.642},{"s":"M16","x":25.85,"y":1.65},{"s":"M16","x":26.1,"y":1.655},{"s":"M16","x":26.35,"y":1.662},{"s":"M16","x":26.6,"y":1.67},{"s":"M16","x":26.85,"y":1.677},{"s":"M16","x":27.1,"y":1.685},{"s":"M16","x":27.35,"y":1.695},{"s":"M16","x":27.6,"y":1.702},{"s":"M16","x":27.85,"y":1.712},{"s":"M16","x":28.1,"y":1.722},{"s":"M16","x":28.35,"y":1.732},{"s":"M16","x":28.6,"y":1.742},{"s":"M16","x":28.85,"y":1.752},{"s":"M16","x":29.1,"y":1.765},{"s":"M16","x":29.35,"y":1.775},{"s":"M16","x":29.6,"y":1.79},{"s":"M16","x":29.85,"y":1.81},
{"s":"S16","x":8.94,"y":1.31},{"s":"S16","x":9.24,"y":1.295},{"s":"S16","x":9.7,"y":1.3},{"s":"S16","x":10.0,"y":1.35},{"s":"S16","x":10.23,"y":1.37},{"s":"S16","x":10.5,"y":1.365},{"s":"S16","x":10.74,"y":1.375},{"s":"S16","x":10.97,"y":1.35},{"s":"S16","x":11.25,"y":1.35},{"s":"S16","x":11.78,"y":1.39},{"s":"S16","x":11.94,"y":1.405},{"s":"S16","x":12.0,"y":1.43},{"s":"S16","x":12.3,"y":1.44},{"s":"S16","x":12.6,"y":1.45},{"s":"S16","x":13.0,"y":1.485},{"s":"S16","x":13.16,"y":1.455},{"s":"S16","x":13.46,"y":1.47},{"s":"S16","x":13.74,"y":1.48},{"s":"S16","x":13.97,"y":1.49},{"s":"S16","x":14.2,"y":1.52},{"s":"S16","x":14.43,"y":1.515},{"s":"S16","x":14.66,"y":1.505},{"s":"S16","x":14.78,"y":1.55},{"s":"S16","x":15.0,"y":1.5},{"s":"S16","x":15.28,"y":1.54},{"s":"S16","x":15.05,"y":1.47},{"s":"S16","x":15.35,"y":1.465},{"s":"S16","x":15.6,"y":1.45},{"s":"S16","x":15.8,"y":1.415},{"s":"S16","x":16.0,"y":1.412},{"s":"S16","x":16.17,"y":1.41},{"s":"S16","x":16.35,"y":1.418},{"s":"S16","x":16.5,"y":1.42},{"s":"S16","x":16.7,"y":1.425},{"s":"S16","x":16.86,"y":1.43},{"s":"S16","x":17.05,"y":1.425},{"s":"S16","x":17.2,"y":1.42},{"s":"S16","x":17.4,"y":1.428},{"s":"S16","x":17.55,"y":1.43},{"s":"S16","x":17.7,"y":1.435},{"s":"S16","x":17.9,"y":1.545},{"s":"S16","x":18.1,"y":1.55},{"s":"S16","x":18.3,"y":1.56},{"s":"S16","x":18.6,"y":1.505},{"s":"S16","x":18.85,"y":1.515},{"s":"S16","x":18.5,"y":1.415},{"s":"S16","x":19.2,"y":1.475},{"s":"S16","x":19.3,"y":1.42},{"s":"S16","x":19.5,"y":1.45},{"s":"S16","x":19.77,"y":1.505},{"s":"S16","x":20.0,"y":1.59},{"s":"S16","x":20.2,"y":1.445},{"s":"S16","x":20.55,"y":1.39},{"s":"S16","x":20.8,"y":1.45},{"s":"S16","x":21.0,"y":1.42},{"s":"S16","x":21.25,"y":1.41},{"s":"S16","x":21.5,"y":1.44},{"s":"S16","x":21.15,"y":1.55},{"s":"S16","x":21.5,"y":1.51},{"s":"S16","x":21.7,"y":1.5},{"s":"S16","x":21.9,"y":1.54},{"s":"S16","x":22.1,"y":1.6},{"s":"S16","x":22.2,"y":1.645},{"s":"S16","x":22.3,"y":1.71},{"s":"S16","x":22.5,"y":1.745},{"s":"S16","x":22.66,"y":1.78},{"s":"S16","x":22.9,"y":1.8},{"s":"S16","x":23.05,"y":1.805},{"s":"S16","x":23.23,"y":1.81},{"s":"S16","x":23.45,"y":1.805},{"s":"S16","x":23.7,"y":1.81},{"s":"S16","x":23.95,"y":1.785},{"s":"S16","x":24.2,"y":1.755},{"s":"S16","x":24.4,"y":1.725},{"s":"S16","x":24.6,"y":1.7},{"s":"S16","x":24.8,"y":1.67},{"s":"S16","x":25.05,"y":1.625},{"s":"S16","x":25.25,"y":1.59},{"s":"S16","x":25.4,"y":1.565},{"s":"S16","x":25.65,"y":1.55},{"s":"S16","x":25.9,"y":1.53},{"s":"S16","x":26.1,"y":1.545},{"s":"S16","x":26.3,"y":1.54},{"s":"S16","x":26.45,"y":1.545},{"s":"S16","x":26.65,"y":1.545},{"s":"S16","x":26.8,"y":1.54},{"s":"S16","x":27.0,"y":1.52},{"s":"S16","x":27.2,"y":1.52},{"s":"S16","x":27.4,"y":1.515},{"s":"S16","x":27.65,"y":1.475},{"s":"S16","x":27.85,"y":1.48},{"s":"S16","x":28.1,"y":1.515},{"s":"S16","x":28.05,"y":1.62},{"s":"S16","x":28.2,"y":1.61},{"s":"S16","x":28.3,"y":1.54},{"s":"S16","x":28.5,"y":1.52},{"s":"S16","x":28.65,"y":1.51},{"s":"S16","x":28.8,"y":1.5},{"s":"S16","x":29.1,"y":1.49},{"s":"S16","x":29.3,"y":1.51},{"s":"S16","x":29.45,"y":1.525},{"s":"S16","x":29.7,"y":1.495},{"s":"S16","x":29.8,"y":1.575},{"s":"S16","x":29.9,"y":1.57}
],
"d":[
{"s":"M16","x":9.3,"y":0.001},{"s":"M16","x":9.6,"y":0.001},{"s":"M16","x":9.9,"y":0.002},{"s":"M16","x":10.2,"y":0.002},{"s":"M16","x":10.5,"y":0.003},{"s":"M16","x":10.8,"y":0.004},{"s":"M16","x":11.1,"y":0.004},{"s":"M16","x":11.4,"y":0.004},{"s":"M16","x":11.7,"y":0.005},
{"s":"M16","x":11.9,"y":0.008},{"s":"M16","x":12.1,"y":0.013},{"s":"M16","x":12.3,"y":0.019},{"s":"M16","x":12.5,"y":0.026},{"s":"M16","x":12.7,"y":0.034},{"s":"M16","x":12.85,"y":0.042},{"s":"M16","x":13.0,"y":0.052},{"s":"M16","x":13.15,"y":0.063},{"s":"M16","x":13.3,"y":0.075},{"s":"M16","x":13.45,"y":0.087},{"s":"M16","x":13.6,"y":0.098},{"s":"M16","x":13.75,"y":0.108},{"s":"M16","x":13.9,"y":0.118},{"s":"M16","x":14.05,"y":0.129},{"s":"M16","x":14.2,"y":0.14},{"s":"M16","x":14.35,"y":0.151},{"s":"M16","x":14.5,"y":0.161},{"s":"M16","x":14.65,"y":0.17},{"s":"M16","x":14.8,"y":0.178},{"s":"M16","x":14.95,"y":0.188},{"s":"M16","x":15.1,"y":0.195},{"s":"M16","x":15.25,"y":0.2},{"s":"M16","x":15.4,"y":0.205},{"s":"M16","x":15.6,"y":0.207},{"s":"M16","x":15.8,"y":0.21},{"s":"M16","x":15.9,"y":0.213},
{"s":"M16","x":12.6,"y":0.02},{"s":"M16","x":12.9,"y":0.035},{"s":"M16","x":13.2,"y":0.055},{"s":"M16","x":13.5,"y":0.078},{"s":"M16","x":13.8,"y":0.1},{"s":"M16","x":14.1,"y":0.12},{"s":"M16","x":14.4,"y":0.14},{"s":"M16","x":14.7,"y":0.158},{"s":"M16","x":15.0,"y":0.175},
{"s":"M16","x":14.9,"y":0.165},{"s":"M16","x":15.1,"y":0.16},{"s":"M16","x":15.3,"y":0.15},{"s":"M16","x":15.45,"y":0.14},{"s":"M16","x":15.6,"y":0.13},{"s":"M16","x":15.75,"y":0.12},{"s":"M16","x":15.9,"y":0.11},{"s":"M16","x":16.05,"y":0.1},{"s":"M16","x":16.2,"y":0.09},{"s":"M16","x":16.35,"y":0.087},{"s":"M16","x":16.5,"y":0.09},{"s":"M16","x":16.65,"y":0.096},{"s":"M16","x":16.8,"y":0.105},{"s":"M16","x":16.95,"y":0.112},{"s":"M16","x":17.1,"y":0.12},{"s":"M16","x":17.25,"y":0.127},{"s":"M16","x":17.4,"y":0.133},{"s":"M16","x":17.55,"y":0.138},{"s":"M16","x":15.5,"y":0.155},{"s":"M16","x":15.8,"y":0.15},{"s":"M16","x":16.05,"y":0.155},{"s":"M16","x":15.2,"y":0.14},{"s":"M16","x":15.6,"y":0.11},{"s":"M16","x":16.1,"y":0.085},{"s":"M16","x":16.5,"y":0.1},{"s":"M16","x":16.9,"y":0.1},{"s":"M16","x":17.3,"y":0.115},
{"s":"M16","x":17.6,"y":0.2},{"s":"M16","x":17.75,"y":0.22},{"s":"M16","x":17.9,"y":0.24},{"s":"M16","x":18.05,"y":0.26},{"s":"M16","x":18.2,"y":0.27},{"s":"M16","x":18.35,"y":0.28},{"s":"M16","x":18.5,"y":0.285},{"s":"M16","x":18.65,"y":0.29},{"s":"M16","x":18.8,"y":0.3},{"s":"M16","x":18.9,"y":0.315},{"s":"M16","x":18.3,"y":0.255},{"s":"M16","x":18.5,"y":0.245},{"s":"M16","x":18.7,"y":0.235},{"s":"M16","x":18.85,"y":0.25},{"s":"M16","x":17.9,"y":0.21},{"s":"M16","x":18.1,"y":0.23},
{"s":"M16","x":18.6,"y":0.175},{"s":"M16","x":18.7,"y":0.165},{"s":"M16","x":18.8,"y":0.155},{"s":"M16","x":18.9,"y":0.145},{"s":"M16","x":19.0,"y":0.13},{"s":"M16","x":19.1,"y":0.115},{"s":"M16","x":19.2,"y":0.1},{"s":"M16","x":18.85,"y":0.1},{"s":"M16","x":18.95,"y":0.12},{"s":"M16","x":19.0,"y":0.17},{"s":"M16","x":19.15,"y":0.19},{"s":"M16","x":19.3,"y":0.2},{"s":"M16","x":19.4,"y":0.22},{"s":"M16","x":19.3,"y":0.16},{"s":"M16","x":19.45,"y":0.14},{"s":"M16","x":19.5,"y":0.12},{"s":"M16","x":19.4,"y":0.09},
{"s":"M16","x":19.55,"y":0.235},{"s":"M16","x":19.65,"y":0.25},{"s":"M16","x":19.75,"y":0.265},{"s":"M16","x":19.85,"y":0.28},{"s":"M16","x":19.95,"y":0.295},{"s":"M16","x":20.0,"y":0.31},{"s":"M16","x":20.05,"y":0.33},{"s":"M16","x":20.1,"y":0.35},{"s":"M16","x":20.15,"y":0.37},{"s":"M16","x":20.2,"y":0.39},{"s":"M16","x":20.25,"y":0.41},{"s":"M16","x":20.3,"y":0.43},{"s":"M16","x":20.4,"y":0.445},{"s":"M16","x":20.55,"y":0.45},{"s":"M16","x":20.7,"y":0.452},{"s":"M16","x":20.85,"y":0.448},{"s":"M16","x":21.0,"y":0.44},{"s":"M16","x":21.15,"y":0.435},{"s":"M16","x":21.3,"y":0.43},{"s":"M16","x":21.45,"y":0.425},{"s":"M16","x":21.6,"y":0.415},{"s":"M16","x":21.75,"y":0.405},{"s":"M16","x":21.9,"y":0.395},{"s":"M16","x":22.05,"y":0.385},{"s":"M16","x":22.2,"y":0.375},{"s":"M16","x":22.35,"y":0.368},{"s":"M16","x":22.5,"y":0.36},{"s":"M16","x":22.65,"y":0.355},{"s":"M16","x":22.8,"y":0.35},{"s":"M16","x":22.95,"y":0.348},{"s":"M16","x":23.1,"y":0.345},{"s":"M16","x":19.9,"y":0.26},{"s":"M16","x":20.05,"y":0.29},{"s":"M16","x":20.15,"y":0.32},{"s":"M16","x":20.3,"y":0.36},{"s":"M16","x":20.45,"y":0.4},{"s":"M16","x":20.6,"y":0.425},{"s":"M16","x":20.8,"y":0.43},{"s":"M16","x":21.1,"y":0.42},{"s":"M16","x":21.4,"y":0.41},{"s":"M16","x":21.7,"y":0.39},{"s":"M16","x":22.0,"y":0.37},{"s":"M16","x":22.3,"y":0.355},{"s":"M16","x":22.6,"y":0.34},
{"s":"M16","x":22.6,"y":0.33},{"s":"M16","x":22.65,"y":0.31},{"s":"M16","x":22.7,"y":0.29},{"s":"M16","x":22.8,"y":0.28},{"s":"M16","x":22.95,"y":0.27},{"s":"M16","x":23.1,"y":0.265},{"s":"M16","x":23.3,"y":0.26},{"s":"M16","x":23.5,"y":0.255},{"s":"M16","x":23.7,"y":0.252},{"s":"M16","x":23.9,"y":0.25},{"s":"M16","x":24.1,"y":0.252},{"s":"M16","x":24.3,"y":0.255},{"s":"M16","x":24.5,"y":0.262},
{"s":"M16","x":22.6,"y":0.22},{"s":"M16","x":22.8,"y":0.21},{"s":"M16","x":23.0,"y":0.205},{"s":"M16","x":23.2,"y":0.215},{"s":"M16","x":23.4,"y":0.2},{"s":"M16","x":23.6,"y":0.21},{"s":"M16","x":23.8,"y":0.195},{"s":"M16","x":23.9,"y":0.185},{"s":"M16","x":23.0,"y":0.225},{"s":"M16","x":23.4,"y":0.22},
{"s":"M16","x":24.5,"y":0.285},{"s":"M16","x":24.75,"y":0.27},{"s":"M16","x":24.75,"y":0.29},{"s":"M16","x":25.0,"y":0.275},{"s":"M16","x":25.0,"y":0.295},{"s":"M16","x":25.25,"y":0.28},{"s":"M16","x":25.25,"y":0.3},{"s":"M16","x":25.5,"y":0.282},{"s":"M16","x":25.5,"y":0.302},{"s":"M16","x":25.75,"y":0.284},{"s":"M16","x":25.75,"y":0.304},{"s":"M16","x":26.0,"y":0.285},{"s":"M16","x":26.0,"y":0.305},{"s":"M16","x":26.25,"y":0.286},{"s":"M16","x":26.25,"y":0.306},{"s":"M16","x":26.5,"y":0.287},{"s":"M16","x":26.5,"y":0.307},{"s":"M16","x":26.75,"y":0.288},{"s":"M16","x":26.75,"y":0.308},{"s":"M16","x":27.0,"y":0.29},{"s":"M16","x":27.0,"y":0.31},{"s":"M16","x":27.25,"y":0.292},{"s":"M16","x":27.25,"y":0.313},{"s":"M16","x":27.5,"y":0.295},{"s":"M16","x":27.5,"y":0.316},{"s":"M16","x":27.75,"y":0.298},{"s":"M16","x":27.75,"y":0.32},{"s":"M16","x":28.0,"y":0.302},{"s":"M16","x":28.0,"y":0.326},{"s":"M16","x":28.25,"y":0.308},{"s":"M16","x":28.25,"y":0.333},{"s":"M16","x":28.5,"y":0.315},{"s":"M16","x":28.5,"y":0.342},{"s":"M16","x":28.75,"y":0.322},{"s":"M16","x":28.75,"y":0.352},{"s":"M16","x":29.0,"y":0.33},{"s":"M16","x":29.0,"y":0.362},{"s":"M16","x":29.25,"y":0.34},{"s":"M16","x":29.25,"y":0.374},{"s":"M16","x":29.5,"y":0.35},{"s":"M16","x":29.5,"y":0.387},{"s":"M16","x":29.75,"y":0.362},{"s":"M16","x":29.75,"y":0.4},{"s":"M16","x":29.95,"y":0.375},{"s":"M16","x":29.95,"y":0.415},{"s":"M16","x":29.9,"y":0.44},{"s":"M16","x":29.95,"y":0.455},{"s":"M16","x":29.7,"y":0.425},
{"s":"M16","x":24.6,"y":0.273},{"s":"M16","x":24.85,"y":0.28},{"s":"M16","x":25.1,"y":0.285},{"s":"M16","x":25.35,"y":0.29},{"s":"M16","x":25.6,"y":0.292},{"s":"M16","x":25.85,"y":0.294},{"s":"M16","x":26.1,"y":0.295},{"s":"M16","x":26.35,"y":0.296},{"s":"M16","x":26.6,"y":0.297},{"s":"M16","x":26.85,"y":0.298},{"s":"M16","x":27.1,"y":0.3},{"s":"M16","x":27.35,"y":0.302},{"s":"M16","x":27.6,"y":0.305},{"s":"M16","x":27.85,"y":0.309},{"s":"M16","x":28.1,"y":0.314},{"s":"M16","x":28.35,"y":0.32},{"s":"M16","x":28.6,"y":0.328},{"s":"M16","x":28.85,"y":0.337},{"s":"M16","x":29.1,"y":0.346},{"s":"M16","x":29.35,"y":0.357},{"s":"M16","x":29.6,"y":0.368},{"s":"M16","x":29.85,"y":0.381},{"s":"M16","x":29.95,"y":0.395},
{"s":"S16","x":8.9,"y":0.001},{"s":"S16","x":9.1,"y":0.001},{"s":"S16","x":9.3,"y":0.001},{"s":"S16","x":9.5,"y":0.002},{"s":"S16","x":9.7,"y":0.002},{"s":"S16","x":9.9,"y":0.003},{"s":"S16","x":10.1,"y":0.003},{"s":"S16","x":10.3,"y":0.004},{"s":"S16","x":10.5,"y":0.005},{"s":"S16","x":10.74,"y":0.005},{"s":"S16","x":10.95,"y":0.007},{"s":"S16","x":11.2,"y":0.01},{"s":"S16","x":11.45,"y":0.013},{"s":"S16","x":11.66,"y":0.016},{"s":"S16","x":11.85,"y":0.021},{"s":"S16","x":12.0,"y":0.026},{"s":"S16","x":12.24,"y":0.034},{"s":"S16","x":12.47,"y":0.04},{"s":"S16","x":12.65,"y":0.047},{"s":"S16","x":12.8,"y":0.053},{"s":"S16","x":12.95,"y":0.06},{"s":"S16","x":13.05,"y":0.065},{"s":"S16","x":13.17,"y":0.073},{"s":"S16","x":13.28,"y":0.082},{"s":"S16","x":13.4,"y":0.09},{"s":"S16","x":13.5,"y":0.098},{"s":"S16","x":13.62,"y":0.104},{"s":"S16","x":13.74,"y":0.11},{"s":"S16","x":13.85,"y":0.118},{"s":"S16","x":13.97,"y":0.127},{"s":"S16","x":14.08,"y":0.135},{"s":"S16","x":14.2,"y":0.144},{"s":"S16","x":14.32,"y":0.15},{"s":"S16","x":14.43,"y":0.156},{"s":"S16","x":14.55,"y":0.16},{"s":"S16","x":14.66,"y":0.163},{"s":"S16","x":14.78,"y":0.165},{"s":"S16","x":14.9,"y":0.166},{"s":"S16","x":15.0,"y":0.165},{"s":"S16","x":15.1,"y":0.163},{"s":"S16","x":15.28,"y":0.183},{"s":"S16","x":15.17,"y":0.135},{"s":"S16","x":15.35,"y":0.158},{"s":"S16","x":15.47,"y":0.156},{"s":"S16","x":15.6,"y":0.15},{"s":"S16","x":15.7,"y":0.148},{"s":"S16","x":15.85,"y":0.15},{"s":"S16","x":16.05,"y":0.152},{"s":"S16","x":16.2,"y":0.155},{"s":"S16","x":16.4,"y":0.158},{"s":"S16","x":16.55,"y":0.159},{"s":"S16","x":16.74,"y":0.16},{"s":"S16","x":16.9,"y":0.163},{"s":"S16","x":17.1,"y":0.166},{"s":"S16","x":17.25,"y":0.167},{"s":"S16","x":17.44,"y":0.169},{"s":"S16","x":17.6,"y":0.171},{"s":"S16","x":17.8,"y":0.173},{"s":"S16","x":17.95,"y":0.177},{"s":"S16","x":18.13,"y":0.181},{"s":"S16","x":18.25,"y":0.186},{"s":"S16","x":18.36,"y":0.189},{"s":"S16","x":18.5,"y":0.182},{"s":"S16","x":18.6,"y":0.177},{"s":"S16","x":18.72,"y":0.175},{"s":"S16","x":18.82,"y":0.173},{"s":"S16","x":18.95,"y":0.163},{"s":"S16","x":19.05,"y":0.152},{"s":"S16","x":19.24,"y":0.136},{"s":"S16","x":19.4,"y":0.144},{"s":"S16","x":19.5,"y":0.152},{"s":"S16","x":19.63,"y":0.131},{"s":"S16","x":19.75,"y":0.121},{"s":"S16","x":19.63,"y":0.1},{"s":"S16","x":19.98,"y":0.255},{"s":"S16","x":20.1,"y":0.224},{"s":"S16","x":19.86,"y":0.207},{"s":"S16","x":20.2,"y":0.181},{"s":"S16","x":20.33,"y":0.115},{"s":"S16","x":20.5,"y":0.1},{"s":"S16","x":20.9,"y":0.156},{"s":"S16","x":21.0,"y":0.14},{"s":"S16","x":21.25,"y":0.181},{"s":"S16","x":21.5,"y":0.169},{"s":"S16","x":21.7,"y":0.185},{"s":"S16","x":21.93,"y":0.224},{"s":"S16","x":22.05,"y":0.272},{"s":"S16","x":22.1,"y":0.3},{"s":"S16","x":22.17,"y":0.305},{"s":"S16","x":22.3,"y":0.353},{"s":"S16","x":22.4,"y":0.371},{"s":"S16","x":22.57,"y":0.389},{"s":"S16","x":22.8,"y":0.346},{"s":"S16","x":22.7,"y":0.4},{"s":"S16","x":22.86,"y":0.408},{"s":"S16","x":23.0,"y":0.418},{"s":"S16","x":23.2,"y":0.422},{"s":"S16","x":23.4,"y":0.424},{"s":"S16","x":23.55,"y":0.421},{"s":"S16","x":23.7,"y":0.415},{"s":"S16","x":23.9,"y":0.408},{"s":"S16","x":24.0,"y":0.4},{"s":"S16","x":24.1,"y":0.392},{"s":"S16","x":24.2,"y":0.382},{"s":"S16","x":24.35,"y":0.371},{"s":"S16","x":24.5,"y":0.36},{"s":"S16","x":24.7,"y":0.35},{"s":"S16","x":24.8,"y":0.34},{"s":"S16","x":24.9,"y":0.331},{"s":"S16","x":25.05,"y":0.293},{"s":"S16","x":25.2,"y":0.276},{"s":"S16","x":25.3,"y":0.26},{"s":"S16","x":25.4,"y":0.243},{"s":"S16","x":25.65,"y":0.214},{"s":"S16","x":25.77,"y":0.164},{"s":"S16","x":25.9,"y":0.156},{"s":"S16","x":26.1,"y":0.218},{"s":"S16","x":26.35,"y":0.231},{"s":"S16","x":26.55,"y":0.245},{"s":"S16","x":26.7,"y":0.25},{"s":"S16","x":26.9,"y":0.251},{"s":"S16","x":27.1,"y":0.248},{"s":"S16","x":27.25,"y":0.243},{"s":"S16","x":27.4,"y":0.24},{"s":"S16","x":27.6,"y":0.235},{"s":"S16","x":27.95,"y":0.26},{"s":"S16","x":28.2,"y":0.28},{"s":"S16","x":28.3,"y":0.231},{"s":"S16","x":28.5,"y":0.226},{"s":"S16","x":28.65,"y":0.222},{"s":"S16","x":28.9,"y":0.183},{"s":"S16","x":29.1,"y":0.19},{"s":"S16","x":29.3,"y":0.19},{"s":"S16","x":29.45,"y":0.193},{"s":"S16","x":29.6,"y":0.2},{"s":"S16","x":29.7,"y":0.21},{"s":"S16","x":29.9,"y":0.218}
]
},
"resolve":{"scale":{"color":"independent","shape":"independent","size":"independent"},"legend":{"color":"independent","shape":"independent"}},
"vconcat":[
{"width":317,"height":193,"resolve":{"axis":{"x":"independent","y":"independent"}},"layer":[
{"data":{"name":"a"},"mark":{"type":"point"},
"encoding":{
"x":{"field":"x","type":"quantitative","scale":{"domain":[8,30],"nice":false,"zero":false},"axis":{"orient":"bottom","values":[10,15,20,25,30],"labels":false,"title":null,"tickSize":-7}},
"y":{"field":"y","type":"quantitative","scale":{"domain":[8,17],"nice":false,"zero":false},"axis":{"orient":"left","values":[8,10,12,14,16],"format":"d","title":"Mprog [M⊙]","labelPadding":17,"titlePadding":6,"tickSize":-7}},
"size":{"field":"s","type":"nominal","scale":{"domain":["M16","S16"],"range":[42,30]},"legend":null},
"color":{"field":"s","type":"nominal","scale":{"domain":["M16","S16"],"range":["#0000ff","#ff0000"]},"legend":{"title":null,"orient":"top-left","offset":7,"padding":5,"strokeColor":"#cccccc","fillColor":"white","cornerRadius":4,"labelFontSize":14,"labelColor":"#222","symbolSize":36,"symbolOffset":14,"labelOffset":11,"rowPadding":3}},
"shape":{"field":"s","type":"nominal","scale":{"domain":["M16","S16"],"range":["square","circle"]},"legend":{"title":null,"orient":"top-left","offset":7,"padding":5,"strokeColor":"#cccccc","fillColor":"white","cornerRadius":4,"labelFontSize":14,"labelColor":"#222","symbolSize":36,"symbolOffset":14,"labelOffset":11,"rowPadding":3}}}},
{"data":{"values":[{}]},"mark":{"type":"text","align":"right","baseline":"middle","fontSize":15,"color":"#222"},
"encoding":{"x":{"datum":29.75,"type":"quantitative","axis":{"orient":"bottom","values":[8,9,11,12,13,14,16,17,18,19,21,22,23,24,26,27,28,29],"labels":false,"title":null,"tickSize":-4}},"y":{"datum":8.84,"type":"quantitative","axis":{"orient":"left","values":[9,11,13,15,17],"labels":false,"title":null,"tickSize":-4}},"text":{"value":"(a)"}}}
]},
{"width":317,"height":193,"resolve":{"axis":{"x":"independent","y":"independent"}},"layer":[
{"data":{"name":"b"},"mark":{"type":"point"},
"encoding":{
"x":{"field":"x","type":"quantitative","scale":{"domain":[8,30],"nice":false,"zero":false},"axis":{"orient":"bottom","values":[10,15,20,25,30],"labels":false,"title":null,"tickSize":-7}},
"y":{"field":"y","type":"quantitative","scale":{"domain":[0,12],"nice":false,"zero":false},"axis":{"orient":"left","values":[0,2.5,5,7.5,10],"format":".1f","title":"Rprog [10¹³ cm]","labelPadding":10,"titlePadding":12,"tickSize":-7}},
"size":{"field":"s","type":"nominal","scale":{"domain":["M16","S16"],"range":[42,30]},"legend":null},
"color":{"field":"s","type":"nominal","scale":{"domain":["M16","S16"],"range":["#0000ff","#ff0000"]},"legend":null},
"shape":{"field":"s","type":"nominal","scale":{"domain":["M16","S16"],"range":["square","circle"]},"legend":null}}},
{"data":{"values":[{}]},"mark":{"type":"text","align":"right","baseline":"middle","fontSize":15,"color":"#222"},
"encoding":{"x":{"datum":29.75,"type":"quantitative","axis":{"orient":"bottom","values":[8,9,11,12,13,14,16,17,18,19,21,22,23,24,26,27,28,29],"labels":false,"title":null,"tickSize":-4}},"y":{"datum":1.16,"type":"quantitative","axis":{"orient":"left","values":[0.5,1,1.5,2,3,3.5,4,4.5,5.5,6,6.5,7,8,8.5,9,9.5,10.5,11,11.5],"labels":false,"title":null,"tickSize":-4}},"text":{"value":"(b)"}}}
]},
{"width":317,"height":193,"resolve":{"axis":{"x":"independent","y":"independent"}},"layer":[
{"data":{"name":"c"},"mark":{"type":"point"},
"encoding":{
"x":{"field":"x","type":"quantitative","scale":{"domain":[8,30],"nice":false,"zero":false},"axis":{"orient":"bottom","values":[10,15,20,25,30],"labels":false,"title":null,"tickSize":-7}},
"y":{"field":"y","type":"quantitative","scale":{"domain":[1.2,1.9],"nice":false,"zero":false},"axis":{"orient":"left","values":[1.2,1.4,1.6,1.8],"format":".1f","title":"MFe [M⊙]","labelPadding":14,"titlePadding":8,"tickSize":-7}},
"size":{"field":"s","type":"nominal","scale":{"domain":["M16","S16"],"range":[42,30]},"legend":null},
"color":{"field":"s","type":"nominal","scale":{"domain":["M16","S16"],"range":["#0000ff","#ff0000"]},"legend":null},
"shape":{"field":"s","type":"nominal","scale":{"domain":["M16","S16"],"range":["square","circle"]},"legend":null}}},
{"data":{"values":[{}]},"mark":{"type":"text","align":"right","baseline":"middle","fontSize":15,"color":"#222"},
"encoding":{"x":{"datum":29.75,"type":"quantitative","axis":{"orient":"bottom","values":[8,9,11,12,13,14,16,17,18,19,21,22,23,24,26,27,28,29],"labels":false,"title":null,"tickSize":-4}},"y":{"datum":1.268,"type":"quantitative","axis":{"orient":"left","values":[1.3,1.5,1.7,1.9],"labels":false,"title":null,"tickSize":-4}},"text":{"value":"(c)"}}}
]},
{"width":317,"height":193,"resolve":{"axis":{"x":"independent","y":"independent"}},"layer":[
{"data":{"name":"d"},"mark":{"type":"point"},
"encoding":{
"x":{"field":"x","type":"quantitative","scale":{"domain":[8,30],"nice":false,"zero":false},"axis":{"orient":"bottom","values":[10,15,20,25,30],"format":"d","title":"MZAMS [M⊙]","labelPadding":16,"titlePadding":4,"tickSize":-7}},
"y":{"field":"y","type":"quantitative","scale":{"domain":[0,0.48],"nice":false,"zero":false},"axis":{"orient":"left","values":[0,0.1,0.2,0.3,0.4],"format":".1f","title":"ξ₂.₅","labelPadding":14,"titlePadding":8,"tickSize":-7}},
"size":{"field":"s","type":"nominal","scale":{"domain":["M16","S16"],"range":[42,30]},"legend":null},
"color":{"field":"s","type":"nominal","scale":{"domain":["M16","S16"],"range":["#0000ff","#ff0000"]},"legend":null},
"shape":{"field":"s","type":"nominal","scale":{"domain":["M16","S16"],"range":["square","circle"]},"legend":null}}},
{"data":{"values":[{}]},"mark":{"type":"text","align":"right","baseline":"middle","fontSize":15,"color":"#222"},
"encoding":{"x":{"datum":29.75,"type":"quantitative","axis":{"orient":"bottom","values":[8,9,11,12,13,14,16,17,18,19,21,22,23,24,26,27,28,29],"labels":false,"title":null,"tickSize":-4}},"y":{"datum":0.045,"type":"quantitative","axis":{"orient":"left","values":[0.05,0.15,0.25,0.35,0.45],"labels":false,"title":null,"tickSize":-4}},"text":{"value":"(d)"}}}
]}
]
}
